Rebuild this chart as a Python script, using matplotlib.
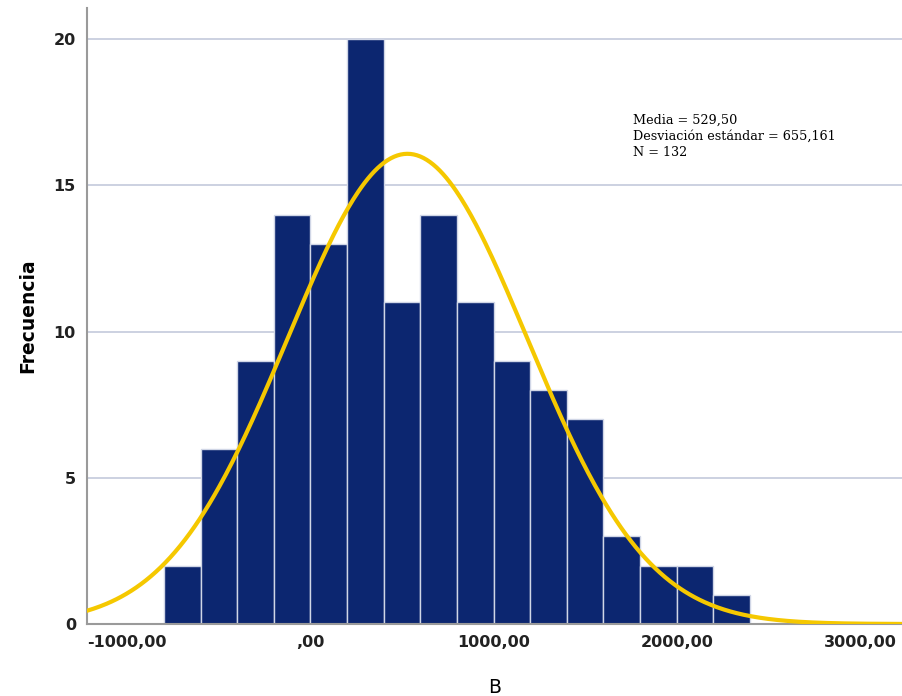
import numpy as np
import matplotlib.pyplot as plt

# Histograma de B con curva normal
bin_edges = [-800, -600, -400, -200, 0, 200, 400, 600, 800, 1000, 1200,
             1400, 1600, 1800, 2000, 2200, 2400]
counts = [2, 6, 9, 14, 13, 20, 11, 14, 11, 9, 8, 7, 3, 2, 2, 1]
media = 529.50
desv = 655.161
n = 132

xticks = [-1000, 0, 1000, 2000, 3000]
xtick_labels = ['-1000,00', ',00', '1000,00', '2000,00', '3000,00']
yticks = [0, 5, 10, 15, 20]

fig = plt.figure(figsize=(9.02, 6.96), dpi=100)
ax = fig.add_axes([0.0965, 0.1034, 0.9035, 0.8851])

ax.set_xlim(-1220, 3230)
ax.set_ylim(0, 21.06)

ax.grid(axis='y', color='#c3cadc', linewidth=1.2, zorder=0)
ax.set_axisbelow(True)

lefts = np.array(bin_edges[:-1])
widths = np.diff(bin_edges)
ax.bar(lefts, counts, width=widths, align='edge', color='#0c2670',
       edgecolor='#d0d6e6', linewidth=1.0, zorder=2)

# curva normal escalada
bw = widths[0]
x = np.linspace(-1220, 3230, 500)
y = n * bw / (desv * np.sqrt(2 * np.pi)) * np.exp(-0.5 * ((x - media) / desv) ** 2)
ax.plot(x, y, color='#f5c800', linewidth=3, zorder=3)

for s in ['top', 'right']:
    ax.spines[s].set_visible(False)
for s in ['left', 'bottom']:
    ax.spines[s].set_color('#9a9a9a')
    ax.spines[s].set_linewidth(1.5)

ax.set_xticks(xticks)
ax.set_xticklabels(xtick_labels)
ax.set_yticks(yticks)
ax.tick_params(length=0, labelsize=11.5, labelcolor='#222222', pad=8)
for lab in ax.get_xticklabels() + ax.get_yticklabels():
    lab.set_fontweight('bold')

ax.set_xlabel('B', fontsize=13.5, labelpad=20)
ax.set_ylabel('Frecuencia', fontsize=13.5, fontweight='bold', labelpad=12)

ax.text(0.67, 0.829,
        'Media = 529,50\nDesviación estándar = 655,161\nN = 132',
        transform=ax.transAxes, family='DejaVu Serif', fontsize=9.2,
        va='top', ha='left', linespacing=1.35)

plt.savefig('out.png', dpi=100)
